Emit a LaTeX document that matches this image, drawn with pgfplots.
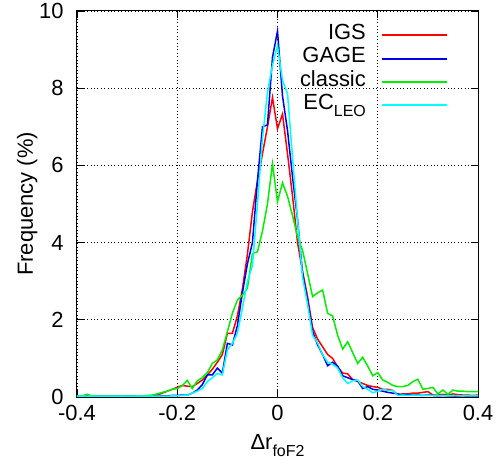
\documentclass[border=0pt]{standalone}
\usepackage{fontspec}
\setmainfont{Liberation Sans}
\usepackage{pgfplots}
\usepackage{pgfplotstable}
\pgfplotsset{compat=1.18}

\pgfplotstableread{
x y
-0.40 0.02
-0.39 0.02
-0.38 0.03
-0.37 0.02
-0.36 0.02
-0.35 0.03
-0.34 0.02
-0.33 0.03
-0.32 0.02
-0.31 0.03
-0.30 0.03
-0.29 0.02
-0.28 0.03
-0.27 0.03
-0.26 0.03
-0.25 0.03
-0.24 0.05
-0.23 0.10
-0.22 0.15
-0.21 0.20
-0.20 0.25
-0.19 0.30
-0.18 0.28
-0.17 0.27
-0.16 0.35
-0.15 0.44
-0.14 0.57
-0.13 0.72
-0.12 0.90
-0.11 1.10
-0.10 1.65
-0.09 1.65
-0.08 2.10
-0.07 2.80
-0.06 3.70
-0.05 4.80
-0.04 5.60
-0.03 6.30
-0.02 7.00
-0.01 7.76
0.00 6.95
0.01 7.33
0.02 6.30
0.03 5.20
0.04 4.00
0.05 3.25
0.06 2.60
0.07 1.80
0.08 1.50
0.09 1.30
0.10 1.10
0.11 1.00
0.12 0.78
0.13 0.62
0.14 0.60
0.15 0.45
0.16 0.40
0.17 0.35
0.18 0.30
0.19 0.27
0.20 0.25
0.21 0.20
0.22 0.20
0.23 0.17
0.24 0.06
0.25 0.08
0.26 0.08
0.27 0.10
0.28 0.10
0.29 0.12
0.30 0.14
0.31 0.05
0.32 0.05
0.33 0.07
0.34 0.05
0.35 0.08
0.36 0.06
0.37 0.05
0.38 0.05
0.39 0.04
0.40 0.05
}\igs

\pgfplotstableread{
x y
-0.40 0.02
-0.39 0.02
-0.38 0.02
-0.37 0.03
-0.36 0.02
-0.35 0.02
-0.34 0.03
-0.33 0.02
-0.32 0.02
-0.31 0.03
-0.30 0.02
-0.29 0.02
-0.28 0.03
-0.27 0.02
-0.26 0.02
-0.25 0.03
-0.24 0.02
-0.23 0.03
-0.22 0.03
-0.21 0.04
-0.20 0.04
-0.19 0.05
-0.18 0.05
-0.17 0.10
-0.16 0.18
-0.15 0.32
-0.14 0.57
-0.13 0.57
-0.12 0.75
-0.11 0.62
-0.10 1.39
-0.09 1.35
-0.08 1.85
-0.07 2.70
-0.06 3.45
-0.05 4.00
-0.04 5.60
-0.03 7.00
-0.02 7.05
-0.01 8.80
0.00 9.48
0.01 7.80
0.02 6.90
0.03 5.70
0.04 4.60
0.05 3.20
0.06 2.50
0.07 1.70
0.08 1.35
0.09 1.10
0.10 0.81
0.11 0.90
0.12 0.80
0.13 0.55
0.14 0.50
0.15 0.45
0.16 0.42
0.17 0.22
0.18 0.27
0.19 0.20
0.20 0.18
0.21 0.15
0.22 0.12
0.23 0.10
0.24 0.08
0.25 0.05
0.26 0.06
0.27 0.05
0.28 0.05
0.29 0.04
0.30 0.05
0.31 0.04
0.32 0.03
0.33 0.04
0.34 0.03
0.35 0.03
0.36 0.02
0.37 0.03
0.38 0.02
0.39 0.02
0.40 0.02
}\gage

\pgfplotstableread{
x y
-0.40 0.02
-0.39 0.03
-0.38 0.07
-0.37 0.03
-0.36 0.02
-0.35 0.02
-0.34 0.03
-0.33 0.02
-0.32 0.02
-0.31 0.03
-0.30 0.02
-0.29 0.02
-0.28 0.03
-0.27 0.03
-0.26 0.04
-0.25 0.05
-0.24 0.08
-0.23 0.12
-0.22 0.15
-0.21 0.20
-0.20 0.22
-0.19 0.29
-0.18 0.43
-0.17 0.22
-0.16 0.42
-0.15 0.50
-0.14 0.63
-0.13 0.87
-0.12 0.96
-0.11 1.22
-0.10 1.69
-0.09 2.17
-0.08 2.51
-0.07 2.64
-0.06 2.82
-0.05 3.72
-0.04 3.76
-0.03 4.30
-0.02 5.00
-0.01 6.04
0.00 5.06
0.01 5.55
0.02 5.20
0.03 4.70
0.04 4.15
0.05 3.80
0.06 3.20
0.07 2.60
0.08 2.70
0.09 2.77
0.10 2.17
0.11 2.10
0.12 1.60
0.13 1.24
0.14 1.43
0.15 1.15
0.16 0.87
0.17 1.03
0.18 0.80
0.19 0.55
0.20 0.63
0.21 0.44
0.22 0.38
0.23 0.30
0.24 0.27
0.25 0.27
0.26 0.30
0.27 0.40
0.28 0.46
0.29 0.20
0.30 0.22
0.31 0.25
0.32 0.08
0.33 0.18
0.34 0.07
0.35 0.18
0.36 0.15
0.37 0.15
0.38 0.14
0.39 0.14
0.40 0.14
}\classicdata

\pgfplotstableread{
x y
-0.40 0.02
-0.39 0.02
-0.38 0.02
-0.37 0.02
-0.36 0.02
-0.35 0.02
-0.34 0.02
-0.33 0.02
-0.32 0.02
-0.31 0.02
-0.30 0.02
-0.29 0.02
-0.28 0.02
-0.27 0.02
-0.26 0.02
-0.25 0.02
-0.24 0.02
-0.23 0.02
-0.22 0.02
-0.21 0.03
-0.20 0.03
-0.19 0.04
-0.18 0.05
-0.17 0.10
-0.16 0.15
-0.15 0.22
-0.14 0.40
-0.13 0.50
-0.12 0.61
-0.11 0.57
-0.10 1.22
-0.09 1.39
-0.08 1.65
-0.07 2.30
-0.06 3.00
-0.05 3.40
-0.04 5.00
-0.03 6.70
-0.02 7.90
-0.01 8.60
0.00 9.10
0.01 8.20
0.02 7.86
0.03 6.20
0.04 4.60
0.05 3.10
0.06 2.40
0.07 1.60
0.08 1.40
0.09 1.10
0.10 0.90
0.11 0.85
0.12 0.75
0.13 0.50
0.14 0.35
0.15 0.42
0.16 0.44
0.17 0.27
0.18 0.20
0.19 0.11
0.20 0.15
0.21 0.20
0.22 0.17
0.23 0.17
0.24 0.04
0.25 0.05
0.26 0.04
0.27 0.05
0.28 0.04
0.29 0.05
0.30 0.04
0.31 0.04
0.32 0.03
0.33 0.04
0.34 0.03
0.35 0.04
0.36 0.03
0.37 0.03
0.38 0.03
0.39 0.03
0.40 0.03
}\ecleo

\definecolor{gred}{RGB}{255,0,0}
\definecolor{gblue}{RGB}{0,0,240}
\definecolor{ggreen}{RGB}{0,240,0}
\definecolor{gcyan}{RGB}{0,255,255}

\begin{document}
\fontsize{22}{26}\selectfont
\begin{tikzpicture}
\begin{axis}[
  scale only axis, width=401bp, height=386bp,
  xmin=-0.4, xmax=0.4, ymin=0, ymax=10,
  xtick={-0.4,-0.2,0,0.2,0.4},
  xticklabels={-0.4,-0.2,0,0.2,0.4},
  ytick={0,2,4,6,8,10},
  yticklabels={0,2,4,6,8,10},
  tick align=inside, xtick pos=both, ytick pos=both,
  xticklabel pos=lower, yticklabel pos=left,
  major tick length=7bp,
  tick style={black, line width=0.8bp},
  axis line style={black, line width=1bp},
  grid=major,
  grid style={black, line width=0.8bp, dash pattern=on 0.8bp off 2.6bp},
  xticklabel style={yshift=-1bp},
  yticklabel style={xshift=-6bp},
  xlabel={Δr\raisebox{-0.32em}{\fontsize{16}{16}\selectfont foF2}},
  xlabel style={at={(axis description cs:0.5,0)}, anchor=base, yshift=-52bp},
  ylabel={Frequency (\%)},
  ylabel style={at={(axis description cs:0,0.5)}, anchor=base, rotate=0, yshift=44bp},
  legend cell align=right,
  legend plot pos=right,
  legend image code/.code={\draw[#1, line width=2bp] (0bp,0bp) -- (65bp,0bp);},
  legend style={at={(axis description cs:1,1)}, anchor=north east,
    xshift=-30bp, yshift=-12.5bp, draw=none, fill=none,
    inner sep=0pt, row sep=0pt, column sep=15bp,
    nodes={inner sep=0pt, text height=16bp, text depth=7.3bp}},
]
\addplot[draw=gred, line width=1.5bp, sharp plot] table[x=x,y=y] {\igs};
\addlegendentry{IGS}
\addplot[draw=gblue, line width=1.5bp, sharp plot] table[x=x,y=y] {\gage};
\addlegendentry{GAGE}
\addplot[draw=ggreen, line width=1.5bp, sharp plot] table[x=x,y=y] {\classicdata};
\addlegendentry{classic}
\addplot[draw=gcyan, line width=1.5bp, sharp plot] table[x=x,y=y] {\ecleo};
\addlegendentry{EC\raisebox{-0.32em}{\fontsize{16}{16}\selectfont LEO}}
\coordinate (SW) at (rel axis cs:0,0);
\coordinate (NE) at (rel axis cs:1,1);
\end{axis}
\pgfresetboundingbox
\path ([xshift=-77bp,yshift=-78bp]SW) rectangle ([xshift=21bp,yshift=11bp]NE);
\end{tikzpicture}
\end{document}
